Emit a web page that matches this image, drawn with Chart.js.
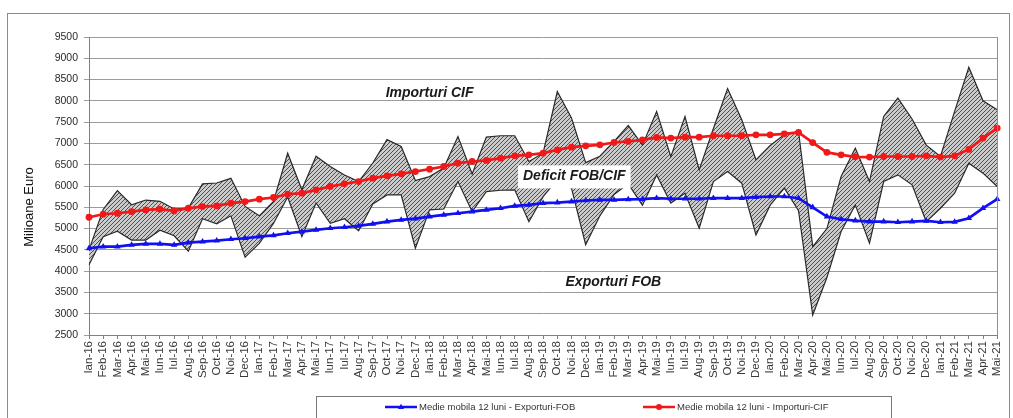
<!DOCTYPE html>
<html>
<head>
<meta charset="utf-8">
<script src="https://cdn.jsdelivr.net/npm/chart.js@4.4.1/dist/chart.umd.min.js"></script>
<style>
  html, body { margin: 0; padding: 0; background: #fff; }
  canvas { display: block; }
</style>
</head>
<body>
<canvas id="chart" width="1013" height="418"></canvas>
<script>
// monthly categories, Jan 2016 .. May 2021
const months = [
  'Ian-16', 'Feb-16', 'Mar-16', 'Apr-16', 'Mai-16', 'Iun-16', 'Iul-16', 'Aug-16', 'Sep-16', 'Oct-16', 'Noi-16', 'Dec-16',
  'Ian-17', 'Feb-17', 'Mar-17', 'Apr-17', 'Mai-17', 'Iun-17', 'Iul-17', 'Aug-17', 'Sep-17', 'Oct-17', 'Noi-17', 'Dec-17',
  'Ian-18', 'Feb-18', 'Mar-18', 'Apr-18', 'Mai-18', 'Iun-18', 'Iul-18', 'Aug-18', 'Sep-18', 'Oct-18', 'Noi-18', 'Dec-18',
  'Ian-19', 'Feb-19', 'Mar-19', 'Apr-19', 'Mai-19', 'Iun-19', 'Iul-19', 'Aug-19', 'Sep-19', 'Oct-19', 'Noi-19', 'Dec-19',
  'Ian-20', 'Feb-20', 'Mar-20', 'Apr-20', 'Mai-20', 'Iun-20', 'Iul-20', 'Aug-20', 'Sep-20', 'Oct-20', 'Noi-20', 'Dec-20',
  'Ian-21', 'Feb-21', 'Mar-21', 'Apr-21', 'Mai-21'
];

// monthly exports FOB (mil. euro)
const exporturi = [
  4150, 4810, 4940, 4730, 4730, 4960, 4830, 4470, 5230, 5110, 5300, 4330,
  4650, 5120, 5740, 4810, 5600, 5125, 5230, 4950, 5580, 5790, 5790, 4540,
  5440, 5460, 6105, 5400, 5870, 5900, 5910, 5160, 5750, 6150, 5950, 4620,
  5300, 5800, 6050, 5550, 6260, 5600, 5830, 5010, 6105, 6340, 6066, 4850,
  5550, 5950, 5420, 2970, 3850, 4930, 5557, 4655, 6105, 6262, 6027, 5164,
  5478, 5831, 6536, 6301, 5988
];

// monthly imports CIF (mil. euro)
const importuri = [
  4500, 5450, 5890, 5560, 5670, 5640, 5460, 5480, 6050, 6070, 6180, 5520,
  5300, 5640, 6770, 5910, 6700, 6460, 6260, 6105, 6540, 7090, 6930, 6130,
  6220, 6420, 7160, 6280, 7150, 7180, 7180, 6575, 6770, 8220, 7600, 6550,
  6700, 7050, 7420, 6960, 7750, 6690, 7630, 6380, 7350, 8290, 7555, 6615,
  6950, 7210, 7280, 4576, 5000, 6222, 6889, 6105, 7634, 8065, 7575, 6960,
  6693, 7752, 8790, 8000, 7790
];

// 12-month moving averages
const mediaExport = [
  4537, 4576, 4576, 4616, 4640, 4640, 4616, 4670, 4694, 4718, 4749, 4773,
  4812, 4840, 4890, 4929, 4968, 5008, 5031, 5063, 5110, 5165, 5204, 5235,
  5282, 5321, 5360, 5400, 5439, 5478, 5533, 5557, 5596, 5611, 5635, 5659,
  5674, 5674, 5685, 5690, 5713, 5700, 5700, 5700, 5713, 5713, 5713, 5737,
  5753, 5753, 5713, 5500, 5282, 5219, 5188, 5165, 5165, 5149, 5165, 5180,
  5149, 5157, 5243, 5478, 5690
];

const mediaImport = [
  5266, 5337, 5360, 5400, 5439, 5455, 5415, 5478, 5517, 5533, 5596, 5635,
  5690, 5730, 5807, 5831, 5909, 5988, 6050, 6105, 6184, 6239, 6286, 6340,
  6395, 6458, 6536, 6576, 6600, 6654, 6709, 6733, 6772, 6850, 6913, 6944,
  6968, 7022, 7046, 7085, 7140, 7125, 7148, 7148, 7180, 7180, 7180, 7203,
  7203, 7226, 7258, 7020, 6790, 6733, 6685, 6680, 6693, 6693, 6693, 6709,
  6680, 6709, 6860, 7125, 7360
];

const legendNames = ['Medie mobila 12 luni - Exporturi-FOB', 'Medie mobila 12 luni - Importuri-CIF'];

const FONT = "'Liberation Sans', Arial, sans-serif";
const BLUE = '#1010f0';
const RED = '#f01818';

function hatchPattern() {
  const c = document.createElement('canvas');
  c.width = 4;
  c.height = 4;
  const g = c.getContext('2d');
  g.fillStyle = '#cbcbcb';
  g.fillRect(0, 0, 4, 4);
  g.strokeStyle = '#505050';
  g.lineWidth = 1;
  g.beginPath();
  g.moveTo(0, 4); g.lineTo(4, 0);
  g.moveTo(-1, 1); g.lineTo(1, -1);
  g.moveTo(3, 5); g.lineTo(5, 3);
  g.stroke();
  return g.createPattern(c, 'repeat');
}

function drawTriangle(ctx, x, y, r) {
  ctx.beginPath();
  ctx.moveTo(x, y - r * 1.1);
  ctx.lineTo(x + r, y + r * 0.7);
  ctx.lineTo(x - r, y + r * 0.7);
  ctx.closePath();
  ctx.fill();
}

// frame, legend box, axis title and the three text notes
const decorations = {
  id: 'decorations',
  afterDatasetsDraw(chart) {
    const ctx = chart.ctx;
    const x = chart.scales.x;
    const y = chart.scales.y;
    ctx.save();
    ctx.fillStyle = '#1a1a1a';
    ctx.textAlign = 'center';
    ctx.textBaseline = 'middle';
    ctx.font = `italic bold 14px ${FONT}`;
    ctx.fillText('Importuri CIF', x.getPixelForValue(24), y.getPixelForValue(8180));

    const dx = x.getPixelForValue(34.2);
    const dy = y.getPixelForValue(6226);
    const w = ctx.measureText('Deficit FOB/CIF').width;
    ctx.fillStyle = '#fff';
    ctx.fillRect(dx - w / 2 - 5, dy - 11, w + 10, 23);
    ctx.fillStyle = '#1a1a1a';
    ctx.fillText('Deficit FOB/CIF', dx, dy);

    ctx.fillText('Exporturi FOB', x.getPixelForValue(36.95), y.getPixelForValue(3746));
    ctx.restore();
  },
  afterDraw(chart) {
    const ctx = chart.ctx;
    const area = chart.chartArea;
    ctx.save();
    // outer frame
    ctx.strokeStyle = '#8c8c8c';
    ctx.lineWidth = 1;
    ctx.strokeRect(7.5, 13.5, 1002, 420);
    // plot area right border
    ctx.strokeStyle = '#909090';
    ctx.beginPath();
    ctx.moveTo(Math.round(area.right) + 0.5, area.top);
    ctx.lineTo(Math.round(area.right) + 0.5, area.bottom);
    ctx.stroke();

    // y axis title
    ctx.fillStyle = '#111';
    ctx.font = `13px ${FONT}`;
    ctx.textAlign = 'center';
    ctx.textBaseline = 'middle';
    ctx.translate(29, 207);
    ctx.rotate(-Math.PI / 2);
    ctx.fillText('Milioane Euro', 0, 0);
    ctx.setTransform(1, 0, 0, 1, 0, 0);

    // legend
    ctx.strokeStyle = '#7a7a7a';
    ctx.strokeRect(316.5, 396.5, 575, 30);
    ctx.font = `9.5px ${FONT}`;
    ctx.textAlign = 'left';
    const items = [
      { x: 385, color: BLUE, mark: 'tri' },
      { x: 643, color: RED, mark: 'dot' }
    ];
    items.forEach((it, i) => {
      const ly = 407;
      ctx.strokeStyle = it.color;
      ctx.fillStyle = it.color;
      ctx.lineWidth = 2.5;
      ctx.beginPath();
      ctx.moveTo(it.x, ly);
      ctx.lineTo(it.x + 32, ly);
      ctx.stroke();
      if (it.mark === 'tri') {
        drawTriangle(ctx, it.x + 16, ly, 3);
      } else {
        ctx.beginPath();
        ctx.arc(it.x + 16, ly, 3, 0, Math.PI * 2);
        ctx.fill();
      }
      ctx.fillStyle = '#333';
      ctx.fillText(legendNames[i], it.x + 34, ly);
    });
    ctx.restore();
  }
};

const ctx = document.getElementById('chart').getContext('2d');

new Chart(ctx, {
  type: 'line',
  data: {
    labels: months,
    datasets: [
      {
        label: legendNames[1],
        data: mediaImport,
        borderColor: RED,
        backgroundColor: RED,
        borderWidth: 2.7,
        pointStyle: 'circle',
        pointRadius: 3.4,
        pointBorderWidth: 0,
        pointBackgroundColor: RED,
        fill: false,
        tension: 0
      },
      {
        label: legendNames[0],
        data: mediaExport,
        borderColor: BLUE,
        backgroundColor: BLUE,
        borderWidth: 2.7,
        pointStyle: 'triangle',
        pointRadius: 3.7,
        pointBorderWidth: 0,
        pointBackgroundColor: BLUE,
        fill: false,
        tension: 0
      },
      {
        label: 'Exporturi FOB',
        data: exporturi,
        borderColor: '#2a2a2a',
        borderWidth: 1.2,
        pointRadius: 0,
        fill: false,
        tension: 0
      },
      {
        label: 'Importuri CIF',
        data: importuri,
        borderColor: '#2a2a2a',
        borderWidth: 1.2,
        pointRadius: 0,
        backgroundColor: hatchPattern(),
        fill: 2,
        tension: 0
      }
    ]
  },
  options: {
    responsive: false,
    animation: false,
    layout: { padding: { left: 0, top: 37, right: 15, bottom: 0 } },
    plugins: {
      legend: { display: false },
      tooltip: { enabled: false },
      filler: { propagate: false }
    },
    scales: {
      x: {
        offset: false,
        afterFit: (scale) => { scale.height = 83; },
        border: { color: '#808080', width: 1 },
        grid: { drawOnChartArea: false, drawTicks: true, tickLength: 4, color: '#808080' },
        ticks: {
          autoSkip: false,
          maxRotation: 90,
          minRotation: 90,
          padding: 2,
          color: '#3a3a3a',
          font: { family: FONT, size: 11.5 }
        }
      },
      y: {
        min: 2500,
        max: 9500,
        afterFit: (scale) => { scale.width = 89; },
        border: { color: '#808080', width: 1 },
        grid: { color: '#9c9c9c', tickLength: 5 },
        ticks: {
          stepSize: 500,
          padding: 6,
          color: '#2a2a2a',
          font: { family: FONT, size: 10.5 },
          callback: (v) => String(v)
        }
      }
    }
  },
  plugins: [decorations]
});
</script>
</body>
</html>
